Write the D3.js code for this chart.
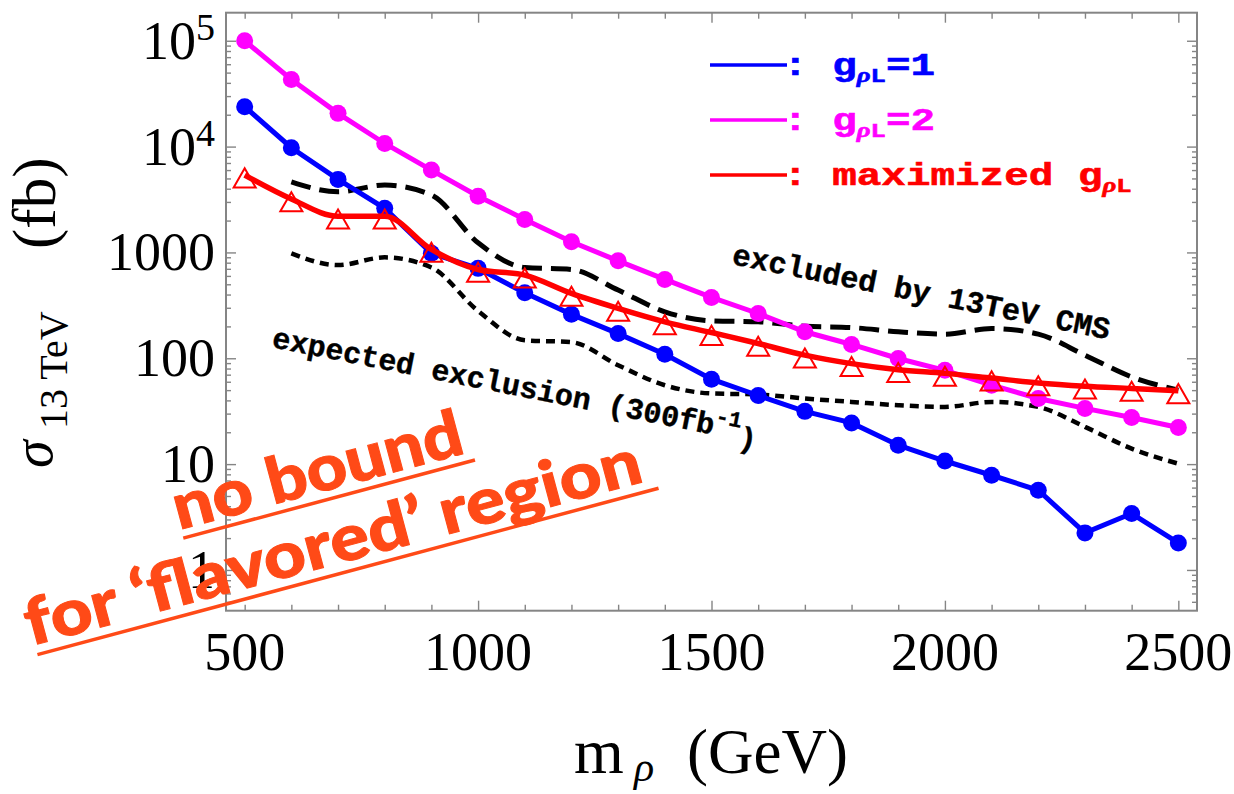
<!DOCTYPE html>
<html>
<head>
<meta charset="utf-8">
<script src="https://cdn.jsdelivr.net/npm/d3@7"></script>
<style>
  html, body { margin: 0; padding: 0; background: #fff; }
  svg { display: block; }
</style>
</head>
<body>
<svg id="chart" width="1234" height="794"></svg>
<script>
// m_rho (GeV) for the three signal curves
const masses = [500, 600, 700, 800, 900, 1000, 1100, 1200, 1300, 1400, 1500,
                1600, 1700, 1800, 1900, 2000, 2100, 2200, 2300, 2400, 2500];
// sigma (fb), g_rhoL = 1
const sigmaG1 = [23800, 9750, 4900, 2610, 980, 707, 415, 260, 171, 109, 63.4,
                 44.5, 31.5, 24.5, 15.1, 10.7, 7.85, 5.66, 2.24, 3.41, 1.80];
// sigma (fb), g_rhoL = 2
const sigmaG2 = [100000, 43000, 20600, 10700, 6000, 3400, 2050, 1260, 833, 556, 376,
                 265, 178, 135, 99.5, 77, 55.7, 41.7, 33.6, 27.6, 22.2];
// sigma (fb), maximized g_rhoL
const sigmaMax = [5380, 3200, 2200, 2200, 1067, 690, 610, 410, 296, 221, 175,
                  138, 107, 89, 78, 72, 65, 58.5, 54.5, 51.9, 49.3];

// CMS limits start at 600 GeV
const limitMasses = [600, 700, 800, 900, 1000, 1100, 1200, 1300, 1400, 1500,
                     1600, 1700, 1800, 1900, 2000, 2100, 2200, 2300, 2400, 2500];
const cmsObserved = [4650, 3740, 4330, 3480, 1232, 721, 690, 441, 275, 226,
                     221, 201, 195, 178, 169, 191, 169, 107, 66.7, 50];
const expected300 = [980, 759, 898, 720, 280, 148, 142, 86, 55.6, 46.5,
                     45.5, 41.7, 38.7, 36, 34.7, 38.7, 34.7, 22.5, 14.0, 10.1];

// tick labels
const xTickLabels = [500, 1000, 1500, 2000, 2500];
const xMajorTicks = [1000, 1500, 2000, 2500];
const yTickValues = [1, 10, 100, 1000, 1e4, 1e5];
const yTickBase   = ["1", "10", "100", "1000", "10", "10"];
const yTickExp    = ["", "", "", "", "4", "5"];

// legend
const legendColors = ["#0000ff", "#ff00ff", "#ff0000"];
const legendPrefix = ["", "", "maximized "];
const legendSuffix = ["=1", "=2", ""];

const svg = d3.select("#chart");
const serif = "'Liberation Serif', 'Times New Roman', serif";
const mono = "'Liberation Mono', 'Courier New', monospace";
const frameColor = "#858585";
const orange = "#ff4a17";

const x = d3.scaleLinear().domain([460, 2540]).range([226, 1197]);
const y = d3.scaleLog().domain([Math.pow(10, -0.385), Math.pow(10, 5.265)]).range([610.7, 12.7]);
const [xL, xR] = x.range();
const [yB, yT] = y.range();

// ---- frame ticks (inward, all four sides)
function tickRow(axis, values, size, tr) {
    svg.append("g")
        .attr("transform", tr)
        .call(axis.tickValues(values).tickSize(size).tickFormat(""))
        .call(g => g.select(".domain").remove())
        .call(g => g.selectAll("line").attr("stroke", frameColor).attr("stroke-width", 1.4));
}
const xMinorTicks = masses.filter(m => !xMajorTicks.includes(m));
const yMinorTicks = y.ticks().filter(v => !yTickValues.includes(v));

tickRow(d3.axisBottom(x), xMajorTicks, -10, `translate(0,${yB})`);
tickRow(d3.axisBottom(x), xMinorTicks, -6, `translate(0,${yB})`);
tickRow(d3.axisTop(x), xMajorTicks, -10, `translate(0,${yT})`);
tickRow(d3.axisTop(x), xMinorTicks, -6, `translate(0,${yT})`);
tickRow(d3.axisLeft(y), yTickValues, -10, `translate(${xL},0)`);
tickRow(d3.axisLeft(y), yMinorTicks, -5, `translate(${xL},0)`);
tickRow(d3.axisRight(y), yTickValues, -10, `translate(${xR},0)`);
tickRow(d3.axisRight(y), yMinorTicks, -5, `translate(${xR},0)`);

svg.append("rect")
    .attr("x", xL).attr("y", yT)
    .attr("width", xR - xL).attr("height", yB - yT)
    .attr("fill", "none").attr("stroke", frameColor).attr("stroke-width", 2);

// ---- tick labels
svg.append("g").selectAll("text")
    .data(xTickLabels)
    .join("text")
    .attr("x", d => x(d)).attr("y", 670)
    .attr("text-anchor", "middle")
    .attr("font-family", serif).attr("font-size", 54)
    .text(d => d);

const yLab = svg.append("g").selectAll("text")
    .data(yTickValues)
    .join("text")
    .attr("x", 215).attr("y", d => y(d) + 18)
    .attr("text-anchor", "end")
    .attr("font-family", serif).attr("font-size", 54);
yLab.append("tspan").text((d, i) => yTickBase[i]);
yLab.filter((d, i) => yTickExp[i] !== "")
    .append("tspan")
    .attr("font-size", 38).attr("dy", -19)
    .text(d => yTickExp[yTickValues.indexOf(d)]);

// ---- axis titles
const xt = svg.append("g").attr("font-family", serif).attr("fill", "#000");
xt.append("text").attr("x", 574).attr("y", 773).attr("font-size", 64).text("m");
xt.append("text").attr("x", 634).attr("y", 781).attr("font-size", 42).attr("font-style", "italic").text("ρ");
xt.append("text").attr("x", 687).attr("y", 773).attr("font-size", 63).text("(GeV)");

const yt = svg.append("g").attr("font-family", serif).attr("transform", "rotate(-90)");
yt.append("text").attr("x", -468).attr("y", 52).attr("font-size", 56).attr("font-style", "italic").text("σ");
yt.append("text").attr("x", -429).attr("y", 67).attr("font-size", 40).text("13 TeV");
yt.append("text").attr("x", -249).attr("y", 55).attr("font-size", 61).text("(fb)");

// ---- curves
const plot = svg.append("g");
const lineOf = (xs, ys, curve) => d3.line()
    .x((d, i) => x(xs[i]))
    .y(d => y(d))
    .curve(curve)(ys);

plot.append("path")
    .attr("d", lineOf(limitMasses, cmsObserved, d3.curveMonotoneX))
    .attr("fill", "none").attr("stroke", "#000").attr("stroke-width", 5)
    .attr("stroke-dasharray", "20 9");
plot.append("path")
    .attr("d", lineOf(limitMasses, expected300, d3.curveMonotoneX))
    .attr("fill", "none").attr("stroke", "#000").attr("stroke-width", 4.5)
    .attr("stroke-dasharray", "9 6");

[[sigmaG1, legendColors[0]], [sigmaG2, legendColors[1]]].forEach(([vals, col]) => {
    plot.append("path")
        .attr("d", lineOf(masses, vals, d3.curveLinear))
        .attr("fill", "none").attr("stroke", col).attr("stroke-width", 5);
    plot.append("g").selectAll("circle")
        .data(vals)
        .join("circle")
        .attr("cx", (d, i) => x(masses[i]))
        .attr("cy", d => y(d))
        .attr("r", 8.5)
        .attr("fill", col);
});

plot.append("path")
    .attr("d", lineOf(masses, sigmaMax, d3.curveMonotoneX))
    .attr("fill", "none").attr("stroke", legendColors[2]).attr("stroke-width", 5.5);
plot.append("g").selectAll("path")
    .data(sigmaMax)
    .join("path")
    .attr("d", d3.symbol(d3.symbolTriangle, 210))
    .attr("transform", (d, i) => `translate(${x(masses[i])},${y(d) + 6})`)
    .attr("fill", "none").attr("stroke", legendColors[2]).attr("stroke-width", 2);

// ---- legend
legendColors.forEach((col, i) => {
    const ly = 65 + i * 55;
    svg.append("line")
        .attr("x1", 710).attr("x2", 787).attr("y1", ly).attr("y2", ly)
        .attr("stroke", col).attr("stroke-width", 3.5);
    const t = svg.append("text")
        .attr("transform", `translate(783,${ly + 10}) scale(1.28,1)`)
        .attr("font-family", mono).attr("font-weight", "bold")
        .attr("font-size", 32).attr("fill", col)
        .attr("stroke", col).attr("stroke-width", 0.6)
        .attr("xml:space", "preserve");
    t.append("tspan").text(": " + legendPrefix[i] + "g");
    t.append("tspan").attr("font-size", 21).attr("dy", 7)
        .attr("font-family", serif).attr("font-style", "italic").text("ρ");
    t.append("tspan").attr("font-size", 20).text("L");
    t.append("tspan").attr("dy", -7).text(legendSuffix[i]);
});

// ---- annotations
svg.append("text")
    .attr("transform", "translate(731,264) rotate(11.3)")
    .attr("font-family", mono).attr("font-weight", "bold").attr("font-size", 30.5)
    .attr("stroke", "#000").attr("stroke-width", 0.4)
    .text("excluded by 13TeV CMS");

const ex = svg.append("text")
    .attr("transform", "translate(271,347) rotate(11.2)")
    .attr("font-family", mono).attr("font-weight", "bold").attr("font-size", 30)
    .attr("stroke", "#000").attr("stroke-width", 0.4);
ex.append("tspan").text("expected exclusion (300fb");
ex.append("tspan").attr("font-size", 22).attr("dy", -12).text("-1");
ex.append("tspan").attr("dy", 19).text(")");

const ob = svg.append("g").attr("fill", orange);
const g1 = ob.append("g").attr("transform", "translate(179,530) rotate(-15)");
g1.append("text")
    .attr("font-family", "Lato, 'Open Sans', sans-serif").attr("font-weight", 900)
    .attr("font-size", 64).attr("textLength", 298).attr("lengthAdjust", "spacingAndGlyphs")
    .attr("stroke", orange).attr("stroke-width", 1)
    .text("no bound");
g1.append("line").attr("x1", 2).attr("x2", 304).attr("y1", 9).attr("y2", 9)
    .attr("stroke", orange).attr("stroke-width", 3.5);

const g2 = ob.append("g").attr("transform", "translate(31,646) rotate(-15)");
g2.append("text")
    .attr("font-family", "Lato, 'Open Sans', sans-serif").attr("font-weight", 900)
    .attr("font-size", 64).attr("textLength", 636).attr("lengthAdjust", "spacingAndGlyphs")
    .attr("stroke", orange).attr("stroke-width", 1)
    .text("for ‘flavored’ region");
g2.append("line").attr("x1", 4).attr("x2", 647).attr("y1", 10).attr("y2", 10)
    .attr("stroke", orange).attr("stroke-width", 3.5);
</script>
</body>
</html>
